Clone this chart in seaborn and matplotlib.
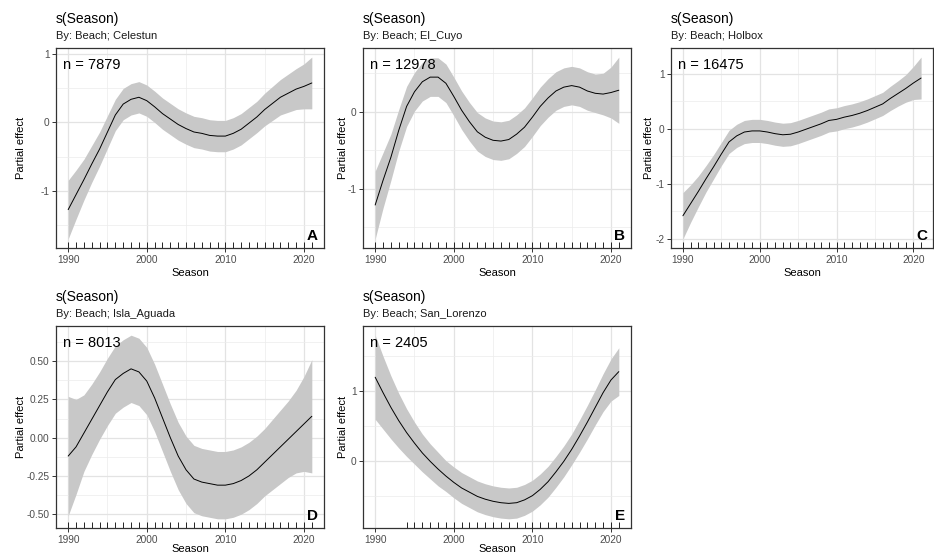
import matplotlib
matplotlib.use("Agg")
import matplotlib.pyplot as plt
import numpy as np
import pandas as pd
import seaborn as sns
from matplotlib.ticker import MultipleLocator, FuncFormatter

sns.set_style("white")
plt.rcParams["font.family"] = ["Liberation Sans", "DejaVu Sans"]
plt.rcParams["axes.unicode_minus"] = False

# ---- data -------------------------------------------------------------
seasons = list(range(1990, 2022))
beaches = ["Celestun", "El_Cuyo", "Holbox", "Isla_Aguada", "San_Lorenzo"]
sample_sizes = [7879, 12978, 16475, 8013, 2405]
panel_letters = ["A", "B", "C", "D", "E"]

celestun_fit = [-1.28, -1.06, -0.84, -0.61, -0.39, -0.14, 0.11, 0.27, 0.34, 0.37,
                0.32, 0.23, 0.13, 0.05, -0.03, -0.09, -0.14, -0.16, -0.19, -0.20,
                -0.20, -0.16, -0.10, -0.01, 0.08, 0.19, 0.28, 0.37, 0.43, 0.49,
                0.53, 0.58]
celestun_se = [0.43, 0.36, 0.30, 0.27, 0.25, 0.24, 0.23, 0.23, 0.23, 0.23,
               0.23, 0.23, 0.23, 0.23, 0.23, 0.23, 0.23, 0.23, 0.23, 0.23,
               0.23, 0.23, 0.23, 0.23, 0.23, 0.24, 0.25, 0.26, 0.28, 0.30,
               0.33, 0.38]

elcuyo_fit = [-1.21, -0.89, -0.59, -0.24, 0.07, 0.26, 0.39, 0.45, 0.45, 0.37,
              0.20, 0.02, -0.13, -0.26, -0.33, -0.37, -0.38, -0.36, -0.29, -0.20,
              -0.07, 0.07, 0.18, 0.27, 0.32, 0.34, 0.32, 0.27, 0.24, 0.23,
              0.25, 0.28]
elcuyo_se = [0.44, 0.36, 0.30, 0.27, 0.26, 0.25, 0.25, 0.25, 0.25, 0.25,
             0.25, 0.25, 0.25, 0.25, 0.25, 0.25, 0.25, 0.25, 0.25, 0.25,
             0.25, 0.25, 0.25, 0.25, 0.25, 0.25, 0.25, 0.25, 0.25, 0.27,
             0.33, 0.43]

holbox_fit = [-1.58, -1.36, -1.14, -0.91, -0.69, -0.46, -0.24, -0.13, -0.06, -0.04,
              -0.04, -0.06, -0.09, -0.11, -0.10, -0.06, -0.01, 0.04, 0.09, 0.15,
              0.17, 0.21, 0.24, 0.28, 0.33, 0.39, 0.45, 0.55, 0.64, 0.73,
              0.83, 0.92]
holbox_se = [0.42, 0.34, 0.28, 0.24, 0.22, 0.21, 0.21, 0.21, 0.21, 0.21,
             0.21, 0.21, 0.21, 0.21, 0.21, 0.21, 0.21, 0.21, 0.21, 0.21,
             0.21, 0.21, 0.21, 0.21, 0.21, 0.21, 0.21, 0.22, 0.23, 0.25,
             0.30, 0.38]

islaaguada_fit = [-0.12, -0.06, 0.03, 0.12, 0.21, 0.30, 0.38, 0.42, 0.45, 0.43,
                  0.37, 0.26, 0.13, 0.00, -0.12, -0.21, -0.27, -0.29, -0.30, -0.31,
                  -0.31, -0.30, -0.28, -0.25, -0.21, -0.16, -0.11, -0.06, -0.01, 0.04,
                  0.09, 0.14]
islaaguada_se = [0.39, 0.31, 0.25, 0.23, 0.22, 0.22, 0.22, 0.22, 0.22, 0.22,
                 0.22, 0.22, 0.22, 0.22, 0.22, 0.22, 0.22, 0.22, 0.22, 0.22,
                 0.22, 0.22, 0.22, 0.22, 0.22, 0.22, 0.23, 0.24, 0.25, 0.27,
                 0.31, 0.37]

sanlorenzo_fit = [1.20, 0.98, 0.77, 0.58, 0.41, 0.26, 0.12, 0.00, -0.11, -0.21,
                  -0.30, -0.38, -0.44, -0.50, -0.54, -0.57, -0.59, -0.60, -0.59, -0.55,
                  -0.49, -0.40, -0.29, -0.15, 0.00, 0.17, 0.36, 0.56, 0.77, 0.98,
                  1.16, 1.28]
sanlorenzo_se = [0.60, 0.52, 0.45, 0.39, 0.34, 0.30, 0.27, 0.25, 0.24, 0.22,
                 0.22, 0.22, 0.22, 0.22, 0.22, 0.22, 0.22, 0.22, 0.22, 0.22,
                 0.22, 0.22, 0.22, 0.22, 0.22, 0.22, 0.23, 0.24, 0.25, 0.27,
                 0.30, 0.34]

# seasons with observations (rug)
rug_full = list(range(1990, 2022))
rug_sanlorenzo = list(range(1994, 2022))

fits = [celestun_fit, elcuyo_fit, holbox_fit, islaaguada_fit, sanlorenzo_fit]
ses = [celestun_se, elcuyo_se, holbox_se, islaaguada_se, sanlorenzo_se]
rugs = [rug_full, rug_full, rug_full, rug_full, rug_sanlorenzo]

# ---- layout (pixel boxes: left, top, right, bottom) --------------------
W, H = 934, 556
fig = plt.figure(figsize=(W / 100, H / 100), dpi=100)
fig.patch.set_facecolor("white")

boxes = [(56, 48, 324, 248), (363, 48, 631, 248), (671, 48, 933, 248),
         (56, 326, 324, 528), (363, 326, 631, 528)]
ylabel_x = [21, 343, 649, 21, 343]
xlabel_gap = [25, 25, 25, 21, 21]
y_steps = [1.0, 1.0, 1.0, 0.25, 1.0]


def fx(px):
    return px / W


def fy(py):
    return 1 - py / H


for i in range(5):
    x0, y0, x1, y1 = boxes[i]
    ax = fig.add_axes([fx(x0), fy(y1), (x1 - x0) / W, (y1 - y0) / H])

    df = pd.DataFrame({"Season": seasons, "fit": fits[i], "se": ses[i]})
    df["lower"] = df["fit"] - df["se"]
    df["upper"] = df["fit"] + df["se"]

    ax.fill_between(df["Season"], df["lower"], df["upper"],
                    color="#c8c8c8", linewidth=0, zorder=2)
    sns.lineplot(data=df, x="Season", y="fit", ax=ax, color="black",
                 linewidth=0.7, zorder=3)
    sns.rugplot(x=rugs[i], ax=ax, height=0.03, color="black",
                linewidth=0.6, expand_margins=False)

    # ggplot-style 5% expansion
    xmin, xmax = min(seasons), max(seasons)
    xr = xmax - xmin
    ax.set_xlim(xmin - 0.05 * xr, xmax + 0.05 * xr)
    ymin, ymax = df["lower"].min(), df["upper"].max()
    yr = ymax - ymin
    ax.set_ylim(ymin - 0.05 * yr, ymax + 0.05 * yr)

    ax.xaxis.set_major_locator(MultipleLocator(10))
    ax.xaxis.set_minor_locator(MultipleLocator(5))
    ax.yaxis.set_major_locator(MultipleLocator(y_steps[i]))
    ax.yaxis.set_minor_locator(MultipleLocator(y_steps[i] / 2))
    if y_steps[i] < 1:
        ax.yaxis.set_major_formatter(FuncFormatter(lambda v, p: f"{round(v, 2) + 0:.2f}"))
    else:
        ax.yaxis.set_major_formatter(FuncFormatter(lambda v, p: f"{int(round(v))}"))

    ax.set_axisbelow(True)
    ax.grid(which="major", color="#e3e3e3", linewidth=0.9, zorder=0)
    ax.grid(which="minor", color="#ececec", linewidth=0.5, zorder=0)

    ax.tick_params(which="major", length=2.7, width=0.7, color="#333333",
                   labelsize=7.3, labelcolor="#4d4d4d", pad=2,
                   bottom=True, left=True)
    ax.tick_params(which="minor", length=0)
    for s in ax.spines.values():
        s.set_color("#333333")
        s.set_linewidth(0.9)
        s.set_zorder(5)

    ax.set_xlabel("")
    ax.set_ylabel("")

    # axis titles
    fig.text(fx((x0 + x1) / 2), fy(y1 + xlabel_gap[i]), "Season", ha="center",
             va="center", fontsize=8, color="black")
    fig.text(fx(ylabel_x[i]), fy((y0 + y1) / 2), "Partial effect", rotation=90,
             ha="center", va="center", fontsize=8, color="black")

    # title and subtitle
    fig.text(fx(x0), fy(y0 - 25), "s(Season)", ha="left", va="baseline",
             fontsize=10, color="black")
    fig.text(fx(x0), fy(y0 - 9), f"By: Beach; {beaches[i]}", ha="left",
             va="baseline", fontsize=8, color="#1a1a1a")

    # sample size and panel letter
    ax.text(7 / (x1 - x0), 1 - 10 / (y1 - y0), f"n = {sample_sizes[i]}",
            transform=ax.transAxes, ha="left", va="top", fontsize=10.5,
            color="black", zorder=6)
    ax.text(1 - 6 / (x1 - x0), 8 / (y1 - y0), panel_letters[i],
            transform=ax.transAxes, ha="right", va="baseline", fontsize=11,
            fontweight="bold", color="black", zorder=6)

fig.savefig("out.png", dpi=100, facecolor="white")
